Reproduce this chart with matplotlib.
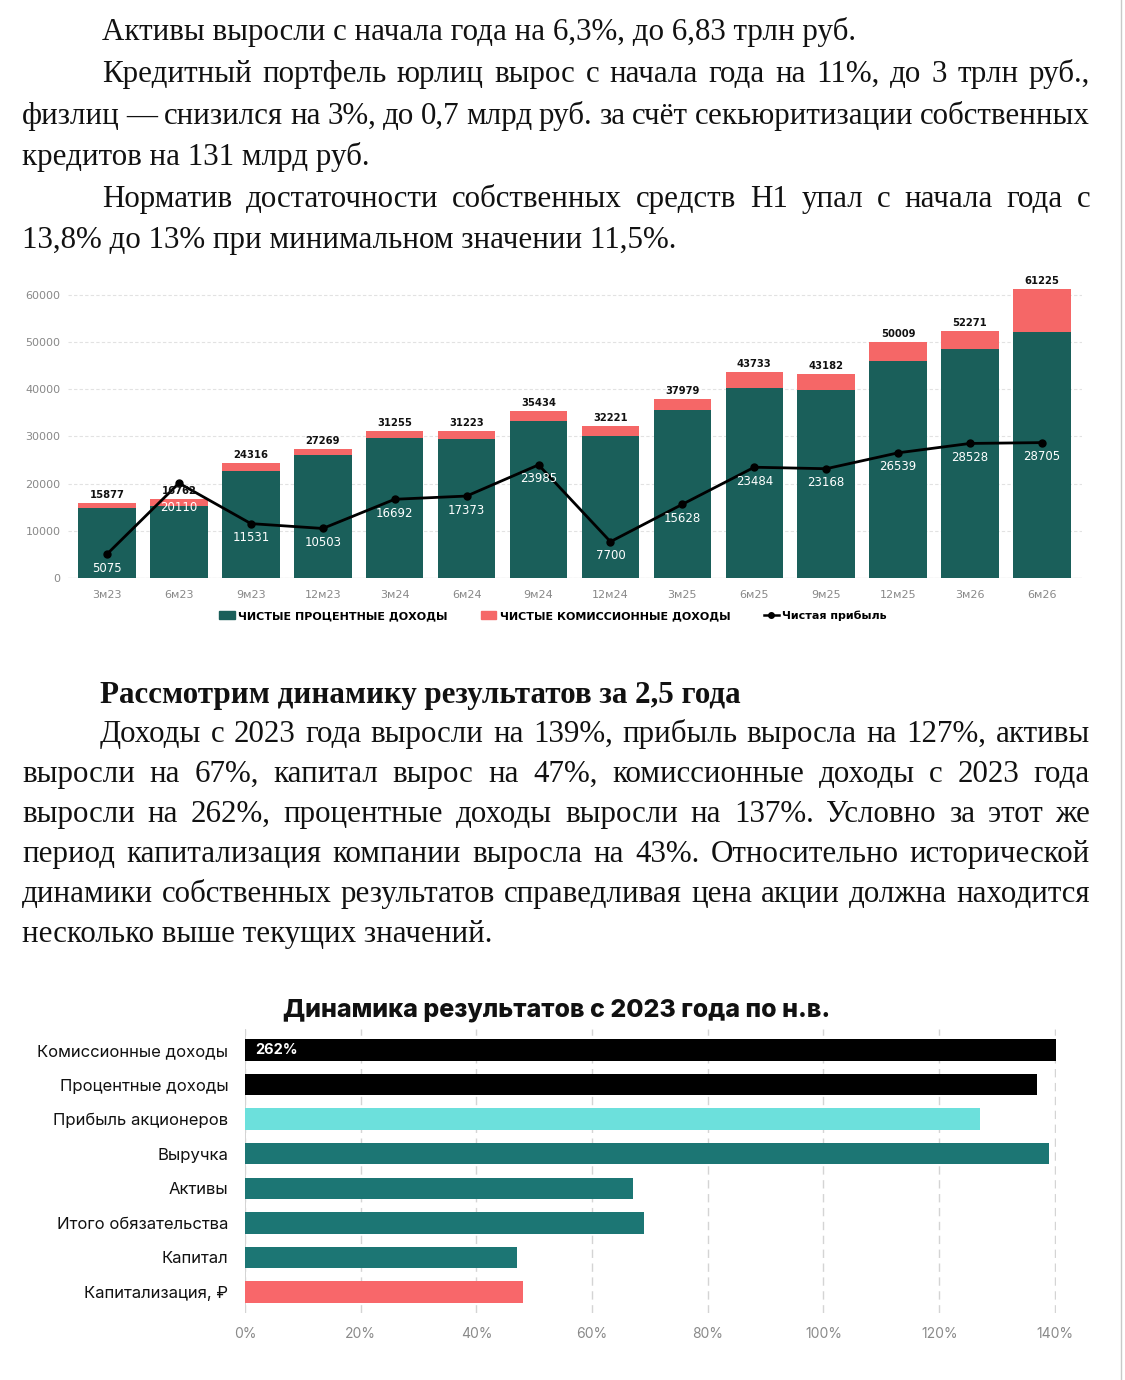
import matplotlib
matplotlib.use('Agg')
import matplotlib.pyplot as plt
from matplotlib.patches import Patch
from matplotlib.lines import Line2D

# ---------------- data ----------------
periods = ['3м23', '6м23', '9м23', '12м23', '3м24', '6м24', '9м24',
           '12м24', '3м25', '6м25', '9м25', '12м25', '3м26', '6м26']
total_income = [15877, 16762, 24316, 27269, 31255, 31223, 35434,
                32221, 37979, 43733, 43182, 50009, 52271, 61225]
interest_income = [14800, 15200, 22600, 26000, 29700, 29400, 33300,
                   30200, 35600, 40200, 39900, 46000, 48500, 52200]
commission_income = [1077, 1562, 1716, 1269, 1555, 1823, 2134,
                     2021, 2379, 3533, 3282, 4009, 3771, 9025]
net_profit = [5075, 20110, 11531, 10503, 16692, 17373, 23985,
              7700, 15628, 23484, 23168, 26539, 28528, 28705]
y_ticks = [0, 10000, 20000, 30000, 40000, 50000, 60000]

metrics = ['Комиссионные доходы', 'Процентные доходы', 'Прибыль акционеров',
           'Выручка', 'Активы', 'Итого обязательства', 'Капитал',
           'Капитализация, ₽']
growth_pct = [262, 137, 127, 139, 67, 69, 47, 48]
x_ticks_pct = [0, 20, 40, 60, 80, 100, 120, 140]

legend_labels = ['ЧИСТЫЕ ПРОЦЕНТНЫЕ ДОХОДЫ', 'ЧИСТЫЕ КОМИССИОННЫЕ ДОХОДЫ',
                 'Чистая прибыль']
chart2_title = 'Динамика результатов с 2023 года по н.в.'

block1 = [
    ("Активы выросли с начала года на 6,3%, до 6,83 трлн руб.", 102, 40, False),
    ("Кредитный портфель юрлиц вырос с начала года на 11%, до 3 трлн руб.,", 102, 82, True),
    ("физлиц — снизился на 3%, до 0,7 млрд руб. за счёт секьюритизации собственных", 22, 124, True),
    ("кредитов на 131 млрд руб.", 22, 165, False),
    ("Норматив достаточности собственных средств Н1 упал с начала года с", 102, 207, True),
    ("13,8% до 13% при минимальном значении 11,5%.", 22, 248, False),
]
heading2 = ("Рассмотрим динамику результатов за 2,5 года", 100, 703)
block2 = [
    ("Доходы с 2023 года выросли на 139%, прибыль выросла на 127%, активы", 100, 742, True),
    ("выросли на 67%, капитал вырос на 47%, комиссионные доходы с 2023 года", 22, 782, True),
    ("выросли на 262%, процентные доходы выросли на 137%. Условно за этот же", 22, 822, True),
    ("период капитализация компании выросла на 43%. Относительно исторической", 22, 862, True),
    ("динамики собственных результатов справедливая цена акции должна находится", 22, 902, True),
    ("несколько выше текущих значений.", 22, 942, False),
]

# ---------------- style ----------------
W, H = 1125, 1380
GREEN = '#1a5f5a'
RED = '#f56767'
C_BLACK = '#000000'
C_CYAN = '#6ce0dc'
C_TEAL = '#1c7674'
C_CORAL = '#f8676a'
bar2_colors = [C_BLACK, C_BLACK, C_CYAN, C_TEAL, C_TEAL, C_TEAL, C_TEAL, C_CORAL]
SERIF = 'Liberation Serif'
SANS = ['Inter', 'DejaVu Sans']
RIGHT = 1090
profit_label_offset = {1: -24}   # label of 6м23 sits lower to clear the total label

fig = plt.figure(figsize=(W / 100, H / 100), dpi=100)
fig.patch.set_facecolor('white')
renderer = fig.canvas.get_renderer()


def measure(s, **kw):
    t = fig.text(0, 0, s, **kw)
    w = t.get_window_extent(renderer).width
    t.remove()
    return w


def put_line(s, x0, y, justify, **kw):
    if not justify:
        fig.text(x0 / W, 1 - y / H, s, ha='left', va='baseline', **kw)
        return
    words = s.split(' ')
    ws = [measure(w, **kw) for w in words]
    gap = (RIGHT - x0 - sum(ws)) / (len(words) - 1)
    x = x0
    for w, wd in zip(words, ws):
        fig.text(x / W, 1 - y / H, w, ha='left', va='baseline', **kw)
        x += wd + gap


fs = 20 * 757 / measure(block1[0][0], size=20, family=SERIF)
for s, x0, y, j in block1:
    put_line(s, x0, y, j, size=fs, family=SERIF, color='#111111')
put_line(heading2[0], heading2[1], heading2[2], False, size=fs, family=SERIF,
         weight='bold', color='#111111')
for s, x0, y, j in block2:
    put_line(s, x0, y, j, size=fs, family=SERIF, color='#111111')

# ---------------- chart 1 ----------------
ax1 = fig.add_axes([67.5 / W, 1 - 578 / H, (1081.5 - 67.5) / W, (578 - 283.2) / H])
xs = list(range(len(periods)))
ax1.bar(xs, interest_income, width=0.8, color=GREEN, zorder=2)
ax1.bar(xs, commission_income, bottom=interest_income, width=0.8, color=RED, zorder=2)
ax1.plot(xs, net_profit, color='black', lw=2, marker='o', ms=5, zorder=4)
for i, (t, p) in enumerate(zip(total_income, net_profit)):
    ax1.annotate(f'{t}', (i, t), xytext=(0, 3), textcoords='offset pixels',
                 ha='center', va='bottom', fontsize=7.2, fontweight='heavy',
                 color='#111111', zorder=5)
    ax1.annotate(f'{p}', (i, p), xytext=(0, profit_label_offset.get(i, -14)),
                 textcoords='offset pixels', ha='center', va='center',
                 fontsize=8.5, color='white', zorder=5)
ax1.set_xlim(-0.55, len(periods) - 0.45)
ax1.set_ylim(0, 62500)
ax1.set_yticks(y_ticks)
ax1.set_yticklabels([str(v) for v in y_ticks])
ax1.set_xticks(xs)
ax1.set_xticklabels(periods)
ax1.tick_params(axis='both', length=0, labelsize=8, labelcolor='#888888')
ax1.tick_params(axis='x', pad=9)
ax1.tick_params(axis='y', pad=5)
ax1.yaxis.grid(True, color='#e2e2e2', linestyle=(0, (3, 2)), lw=0.8, zorder=0)
ax1.axhline(0, color='#e6e6e6', lw=1, zorder=1)
for sp in ax1.spines.values():
    sp.set_visible(False)
ax1.set_facecolor('none')

handles = [Patch(color=GREEN), Patch(color=RED),
           Line2D([], [], color='black', lw=1.8, marker='o', ms=4)]
fig.legend(handles, legend_labels, loc='center', bbox_to_anchor=(553 / W, 1 - 616 / H),
           ncol=3, frameon=False, prop=dict(weight='bold', size=8),
           handlelength=1.4, handleheight=0.7, handletextpad=0.3, columnspacing=3.0)

# ---------------- chart 2 ----------------
ax2 = fig.add_axes([245 / W, 1 - 1312.8 / H, (1056 - 245) / W, (1312.8 - 1029.2) / H])
ys = list(range(len(metrics)))
ax2.barh(ys, growth_pct, height=0.62, color=bar2_colors, zorder=2)
ax2.set_xlim(0, 140.2)
ax2.set_ylim(len(metrics) - 0.4, -0.6)
ax2.set_xticks(x_ticks_pct)
ax2.set_xticklabels([f'{v}%' for v in x_ticks_pct], family=SANS)
ax2.set_yticks(ys)
ax2.set_yticklabels(metrics, family=SANS)
ax2.tick_params(axis='x', length=0, pad=10, labelsize=10, labelcolor='#8a8a8a')
ax2.tick_params(axis='y', length=0, pad=12, labelsize=12, labelcolor='#111111')
ax2.xaxis.grid(True, color='#d4d4d4', linestyle=(0, (6, 4)), lw=1, zorder=0)
ax2.axvline(0, color='#cccccc', lw=1.2, zorder=1)
for sp in ax2.spines.values():
    sp.set_visible(False)
ax2.text(1.7, 0, f'{growth_pct[0]}%', color='white', fontweight='bold', fontsize=10.5,
         ha='left', va='center', family=SANS, zorder=3)
fig.text(557 / W, 1 - 1010 / H, chart2_title, ha='center', va='center', fontsize=18,
         fontweight='heavy', family=SANS, color='#111111')

fig.add_artist(Line2D([1121 / W, 1121 / W], [0, 1], color='#c8c8c8', lw=1,
                      transform=fig.transFigure))

fig.savefig('out.png', dpi=100, facecolor='white')
